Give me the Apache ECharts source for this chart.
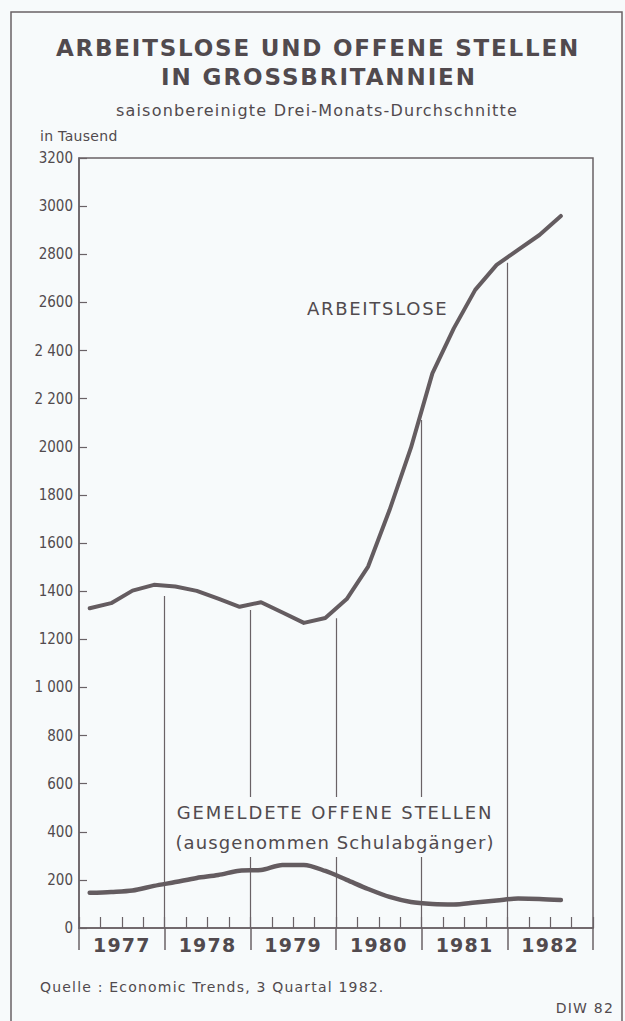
<!DOCTYPE html>
<html>
<head>
<meta charset="utf-8">
<script src="https://cdn.jsdelivr.net/npm/echarts@6/dist/echarts.min.js"></script>
<style>
html,body{margin:0;padding:0;background:#f7fafb;}
#chart{width:625px;height:1021px;}
</style>
</head>
<body>
<div id="chart"></div>
<script>
// ---- data ----
const quarters = ['1977 I','1977 II','1977 III','1977 IV','1978 I','1978 II','1978 III','1978 IV',
  '1979 I','1979 II','1979 III','1979 IV','1980 I','1980 II','1980 III','1980 IV',
  '1981 I','1981 II','1981 III','1981 IV','1982 I','1982 II','1982 III','1982 IV'];
const years = ['1977','1978','1979','1980','1981','1982'];
const arbeitslose = [1329,1350,1402,1426,1419,1401,1369,1335,1354,1311,1268,1288,
  1367,1502,1737,1996,2305,2492,2652,2756,2818,2880,2959];
const offeneStellen = [146,150,156,175,191,208,220,238,241,262,262,237,
  200,162,129,108,100,98,106,114,123,121,116];
const yTickLabels = ['0','200','400','600','800','1 000','1200','1400','1600','1800',
  '2000','2 200','2 400','2600','2800','3000','3200'];
const dropYears = ['1978','1979','1980','1981','1982'];
const dropTops = [1380,1322,1287,2111,2765];

// ---- styles ----
const INK = '#514a4e';
const LINE = '#645c60';
const AX = '#6a6266';
const BG = '#f7fafb';
const SANS = "'DejaVu Sans', sans-serif";
const NARROW = "'Liberation Sans Narrow','DejaVu Sans Condensed', sans-serif";
const letterSpacing = {
  'ARBEITSLOSE UND OFFENE STELLEN':'1.8px',
  'IN GROSSBRITANNIEN':'1.9px',
  'saisonbereinigte Drei-Monats-Durchschnitte':'1.2px',
  'ARBEITSLOSE':'1.7px',
  'GEMELDETE OFFENE STELLEN':'1.9px',
  '(ausgenommen Schulabgänger)':'1.1px',
  'Quelle : Economic Trends, 3 Quartal 1982.':'1.2px',
  'DIW 82':'1.2px',
  'in Tausend':'0.3px'
};
years.forEach(y => { letterSpacing[y] = '1.2px'; });

const chart = echarts.init(document.getElementById('chart'), null, {renderer:'svg'});
chart.setOption({
  backgroundColor: BG,
  animation: false,
  grid: {left:79, right:32, top:158, bottom:93, show:true, borderColor:AX, borderWidth:1.5,
         backgroundColor:'transparent', outerBoundsMode:'none', containLabel:false},
  xAxis: [
    {type:'category', data:quarters, boundaryGap:true, position:'bottom',
     axisLine:{show:true, lineStyle:{color:AX, width:1.5}},
     axisTick:{show:true, inside:true, length:11, interval:0, lineStyle:{color:AX, width:1.2}},
     axisLabel:{show:false}, splitLine:{show:false}},
    {type:'category', data:years, boundaryGap:true, position:'bottom',
     axisLine:{show:false},
     axisTick:{show:true, inside:false, length:22, interval:0, lineStyle:{color:AX, width:1.5}},
     axisLabel:{show:true, interval:0, margin:7, color:INK, fontFamily:SANS, fontWeight:'bold', fontSize:19},
     splitLine:{show:false}},
    {type:'value', min:0, max:6, show:false}
  ],
  yAxis: {type:'value', min:0, max:3200, interval:200,
    axisLine:{show:true, lineStyle:{color:AX, width:1.5}},
    axisTick:{show:true, inside:true, length:8, lineStyle:{color:AX, width:1.2}},
    axisLabel:{margin:6, color:INK, fontFamily:NARROW, fontSize:15,
      formatter: v => yTickLabels[Math.round(v/200)]},
    splitLine:{show:false}},
  series: [
    {type:'lines', coordinateSystem:'cartesian2d', xAxisIndex:2, yAxisIndex:0, z:1,
     silent:true, lineStyle:{color:AX, width:1.2, opacity:1},
     data: dropYears.map((y,i)=>({coords:[[years.indexOf(y),0],[years.indexOf(y),dropTops[i]]]}))},
    {name:'Arbeitslose', type:'line', xAxisIndex:0, data:arbeitslose, showSymbol:false, symbol:'none',
     smooth:false, z:3, lineStyle:{color:LINE, width:4, cap:'round', join:'round'}},
    {name:'Gemeldete offene Stellen', type:'line', xAxisIndex:0, data:offeneStellen, showSymbol:false, symbol:'none',
     smooth:0.3, z:3, lineStyle:{color:LINE, width:4.5, cap:'round', join:'round'}}
  ],
  graphic: [
    {type:'rect', silent:true, z:0, shape:{x:11, y:12, width:611, height:1040},
     style:{fill:'none', stroke:AX, lineWidth:1.5}},
    {type:'text', x:318, y:48, z:100, style:{text:'ARBEITSLOSE UND OFFENE STELLEN', font:"bold 23px "+SANS,
      fill:INK, align:'center', verticalAlign:'middle'}},
    {type:'text', x:319, y:77, z:100, style:{text:'IN GROSSBRITANNIEN', font:"bold 23px "+SANS,
      fill:INK, align:'center', verticalAlign:'middle'}},
    {type:'text', x:317, y:110, z:100, style:{text:'saisonbereinigte Drei-Monats-Durchschnitte', font:"16px "+SANS,
      fill:INK, align:'center', verticalAlign:'middle'}},
    {type:'text', x:40, y:136, z:100, style:{text:'in Tausend', font:"14px "+SANS,
      fill:INK, align:'left', verticalAlign:'middle'}},
    {type:'text', x:307, y:308, z:100, style:{text:'ARBEITSLOSE', font:"18px "+SANS,
      fill:INK, align:'left', verticalAlign:'middle'}},
    {type:'text', x:335, y:827, z:100, style:{text:'GEMELDETE OFFENE STELLEN\n(ausgenommen Schulabgänger)',
      font:"18px "+SANS, lineHeight:30, fill:INK, align:'center', verticalAlign:'middle',
      backgroundColor:BG, padding:[0,14]}},
    {type:'text', x:40, y:987, z:100, style:{text:'Quelle : Economic Trends, 3 Quartal 1982.', font:"14px "+SANS,
      fill:INK, align:'left', verticalAlign:'middle'}},
    {type:'text', x:614, y:1008, z:100, style:{text:'DIW 82', font:"14px "+SANS,
      fill:INK, align:'right', verticalAlign:'middle'}}
  ]
});

// widen the lettering like the typeset original
document.querySelectorAll('#chart svg text').forEach(t => {
  const s = letterSpacing[t.textContent.trim()];
  if (s) t.style.letterSpacing = s;
});
</script>
</body>
</html>
